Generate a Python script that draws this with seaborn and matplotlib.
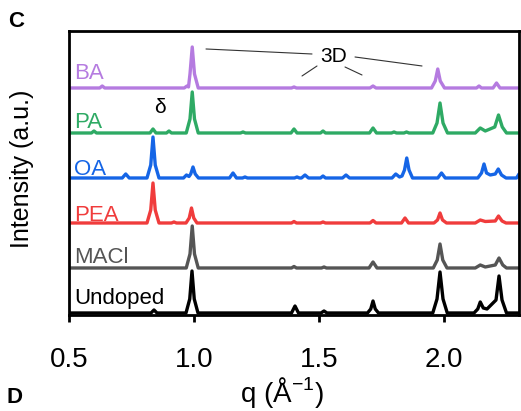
import numpy as np
import pandas as pd
import matplotlib.pyplot as plt
import seaborn as sns

# Diffraction traces (q in 1/Angstrom, intensity in a.u.)
samples = ["Undoped", "MACl", "PEA", "OA", "PA", "BA"]
display_names = ["Undoped", "MACl", "PEA", "OA", "PA", "BA"]
colors = ["#000000", "#555555", "#F03C3C", "#1565E6", "#2EAA64", "#B57BE0"]

undoped_q = [0.5, 0.828, 0.84, 0.852, 0.968, 0.983, 0.992, 1.001, 1.016, 1.39, 1.404, 1.418,
             1.508, 1.52, 1.532, 1.694, 1.707, 1.716, 1.725, 1.738, 1.955, 1.972, 1.984, 1.996, 2.013,
             2.12, 2.135, 2.145, 2.157, 2.172, 2.208, 2.22, 2.232, 2.25, 2.3]
undoped_i = [0, 0, 3, 0, 0, 14, 42, 14, 0, 0, 7, 0,
             0, 2, 0, 0, 4, 12, 4, 0, 0, 14, 41, 14, 0,
             0, 4, 11, 5, 4, 13, 37, 13, 0, 0]

macl_q = [0.5, 0.969, 0.984, 0.993, 1.002, 1.017, 1.39, 1.4, 1.41, 1.51, 1.52, 1.53,
          1.7, 1.716, 1.732, 1.957, 1.973, 1.984, 1.995, 2.012, 2.125, 2.145, 2.165,
          2.205, 2.22, 2.235, 2.25, 2.3]
macl_i = [0, 0, 14, 42, 14, 0, 0, 1.5, 0, 0, 1, 0,
          0, 6, 0, 0, 8, 24, 8, 0, 0, 3, 1,
          3, 10, 3, 0, 0]

pea_q = [0.5, 0.812, 0.827, 0.836, 0.845, 0.86, 0.91, 0.92, 0.93, 0.968, 0.981, 0.99, 0.999, 1.012,
         1.39, 1.4, 1.41, 1.506, 1.516, 1.526, 1.704, 1.716, 1.728, 1.83, 1.844, 1.858,
         1.96, 1.974, 1.984, 1.994, 2.01, 2.125, 2.145, 2.165, 2.205, 2.218, 2.232, 2.248, 2.3]
pea_i = [0, 0, 13, 40, 13, 0, 0, 1, 0, 0, 5, 15, 5, 0,
         0, 1.5, 0, 0, 1, 0, 0, 2.5, 0, 0, 5, 0,
         0, 3, 10, 3, 0, 0, 3, 1.5, 2, 7, 2, 0, 0]

oa_q = [0.5, 0.713, 0.727, 0.741, 0.812, 0.827, 0.836, 0.845, 0.86,
        0.958, 0.97, 0.98, 0.987, 0.996, 1.005, 1.018, 1.142, 1.156, 1.17, 1.194, 1.204, 1.214,
        1.402, 1.412, 1.422, 1.43, 1.444, 1.458, 1.506, 1.516, 1.526, 1.594, 1.608, 1.622,
        1.792, 1.807, 1.822, 1.832, 1.842, 1.851, 1.86, 1.874, 1.975, 1.99, 2.005,
        2.135, 2.15, 2.16, 2.17, 2.185, 2.205, 2.217, 2.23, 2.248, 2.29, 2.3]
oa_i = [0, 0, 4, 0, 0, 13, 41, 13, 0,
        0, 3, 1.5, 4, 11, 4, 0, 0, 5, 0, 0, 1, 0,
        0, 1, 0, 0, 3, 0, 0, 2, 0, 0, 3, 0,
        0, 4, 1, 2, 8, 20, 8, 0, 0, 5, 0,
        0, 5, 14, 5, 3, 4, 9, 3, 0, 0, 4]

pa_q = [0.5, 0.59, 0.6, 0.61, 0.824, 0.836, 0.848, 0.89, 0.9, 0.91,
        0.969, 0.984, 0.993, 1.002, 1.017, 1.186, 1.196, 1.206, 1.388, 1.4, 1.412,
        1.506, 1.516, 1.526, 1.702, 1.716, 1.73, 1.79, 1.8, 1.81, 1.84, 1.85, 1.86,
        1.955, 1.972, 1.984, 1.996, 2.014, 2.125, 2.145, 2.165, 2.203, 2.218, 2.233, 2.25, 2.3]
pa_i = [0, 0, 2, 0, 0, 4, 0, 0, 2, 0,
        0, 14, 41, 14, 0, 0, 1, 0, 0, 4, 0,
        0, 2, 0, 0, 5, 0, 0, 1, 0, 0, 1, 0,
        0, 10, 30, 10, 0, 0, 5, 2, 6, 18, 6, 0, 0]

ba_q = [0.5, 0.623, 0.633, 0.643, 0.961, 0.972, 0.978, 0.984, 0.993, 1.002, 1.017,
        1.39, 1.4, 1.41, 1.704, 1.716, 1.728, 1.95, 1.965, 1.975, 1.985, 2.002,
        2.13, 2.14, 2.15, 2.196, 2.21, 2.224, 2.3]
ba_i = [0, 0, 2, 0, 0, 2, 1, 14, 41, 14, 0,
        0, 1, 0, 0, 2, 0, 0, 7, 19, 7, 0,
        0, 2, 0, 0, 5, 0, 0]

traces_q = [undoped_q, macl_q, pea_q, oa_q, pa_q, ba_q]
traces_i = [undoped_i, macl_i, pea_i, oa_i, pa_i, ba_i]

# Layout
spacing = 45
label_lift = [9, 5, 2, 3, 5, 9]

frames = []
for k, (name, q, inten) in enumerate(zip(samples, traces_q, traces_i)):
    frames.append(pd.DataFrame({"q": q, "y": np.array(inten) + k * spacing, "sample": name}))
df = pd.concat(frames, ignore_index=True)

sns.set_style("white")
plt.rcParams["font.family"] = ["Liberation Sans", "DejaVu Sans"]
plt.rcParams["text.color"] = "black"
plt.rcParams["axes.labelcolor"] = "black"

fig = plt.figure(figsize=(5.21, 4.11), dpi=100)
ax = fig.add_axes([0.1324, 0.2336, 0.8638, 0.691])

sns.lineplot(data=df, x="q", y="y", hue="sample", hue_order=samples,
             palette=dict(zip(samples, colors)), estimator=None, sort=False,
             legend=False, linewidth=2.4, ax=ax)

for k, (lab, c) in enumerate(zip(display_names, colors)):
    ax.text(0.522, k * spacing + label_lift[k], lab, color=c, fontsize=16,
            ha="left", va="baseline")

# 3D and delta annotations
ax.text(1.56, 256, "3D", fontsize=15, ha="center", va="center")
for (x0, y0), (x1, y1) in [((1.048, 264), (1.472, 259)), ((1.644, 256), (1.912, 247)),
                           ((1.432, 237), (1.492, 247)), ((1.604, 246), (1.672, 238))]:
    ax.plot([x0, x1], [y0, y1], color="#333333", lw=0.8)
ax.text(0.864, 205, "δ", fontsize=15, ha="center", va="center")

ax.set_xlim(0.5, 2.3)
ax.set_ylim(-2, 282)
ax.set_xticks([0.5, 1.0, 1.5, 2.0])
ax.set_xticklabels(["0.5", "1.0", "1.5", "2.0"])
ax.set_yticks([])
ax.tick_params(axis="x", direction="out", length=5, width=2, labelsize=20, pad=18,
               bottom=True, colors="black")
for s in ax.spines.values():
    s.set_linewidth(2)
    s.set_color("black")

ax.set_xlabel("q (Å$^{\\mathregular{-1}}$)", fontsize=20)
ax.xaxis.set_label_coords(0.473, -0.21)
ax.set_ylabel("Intensity (a.u.)", fontsize=18)
ax.yaxis.set_label_coords(-0.078, 0.514)

fig.text(0.015, 0.934, "C", fontsize=16, fontweight="bold", va="baseline", color="black")
fig.text(0.012, 0.0195, "D", fontsize=16, fontweight="bold", va="baseline", color="black")

fig.savefig("out.png", dpi=100)
